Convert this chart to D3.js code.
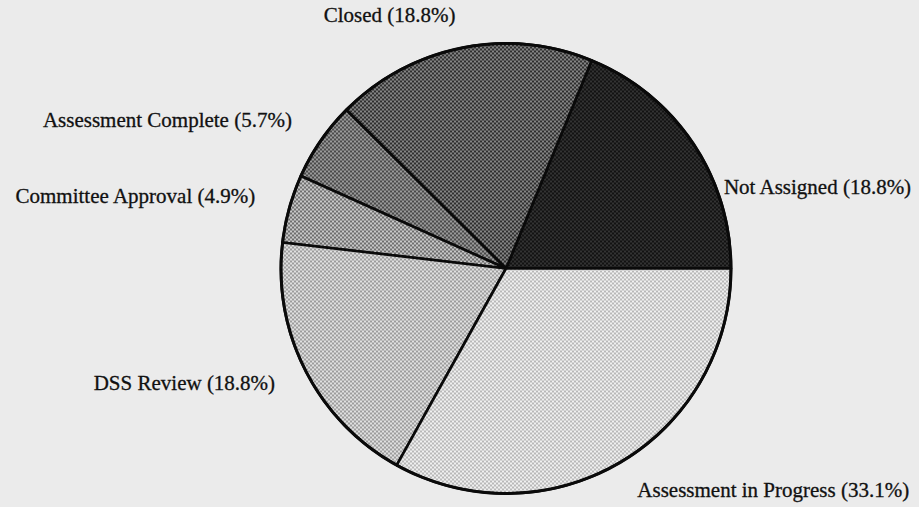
<!DOCTYPE html>
<html lang="en">
<head>
<meta charset="utf-8">
<title>Status pie</title>
<script src="https://cdn.jsdelivr.net/npm/d3@7"></script>
<style>
  body { margin: 0; background: #ebebeb; }
  text { font-family: "Liberation Serif", "Times New Roman", serif; font-size: 21px; fill: #111; stroke: #111; stroke-width: 0.3px; }
</style>
</head>
<body>
<script>
// data (counter-clockwise from 3 o'clock)
var categories = ["Not Assigned", "Closed", "Assessment Complete", "Committee Approval", "DSS Review", "Assessment in Progress"];
var percents = [18.8, 18.8, 5.7, 4.9, 18.8, 33.1];

// halftone look: base colour + dot colour per slice
var baseColors = ["#121212", "#2e2e2e", "#4a4a4a", "#c8c8c8", "#e0e0e0", "#f0f0f0"];
var dotColors  = ["#333333", "#858585", "#9a9a9a", "#6e6e6e", "#9c9c9c", "#b8b8b8"];
// label nudges [dx, dy]; Not Assigned label sits lower than its slice
var labelNudge = [[6, 62], [0, -2], [-4, -2], [-5, -3], [-4, 0], [2, 4]];

var w = 919, h = 507;
var cx = 506, cy = 268.5, r = 225;

var svg = d3.select("body").append("svg")
    .attr("width", w)
    .attr("height", h);

var defs = svg.append("defs");
categories.forEach(function(c, i) {
  var p = defs.append("pattern")
      .attr("id", "pat" + i)
      .attr("patternUnits", "userSpaceOnUse")
      .attr("width", 4).attr("height", 4);
  p.append("rect").attr("width", 4).attr("height", 4).attr("fill", baseColors[i]);
  p.append("rect").attr("x", 0).attr("y", 0).attr("width", 2).attr("height", 2).attr("fill", dotColors[i]);
  p.append("rect").attr("x", 2).attr("y", 2).attr("width", 2).attr("height", 2).attr("fill", dotColors[i]);
});

var pie = d3.pie()
    .sort(null)
    .value(function(d) { return d; })
    .startAngle(Math.PI / 2)
    .endAngle(Math.PI / 2 - 2 * Math.PI);

var arcs = pie(percents);

var arc = d3.arc().innerRadius(0).outerRadius(r);
var labelArc = d3.arc().innerRadius(255).outerRadius(255);

var g = svg.append("g").attr("transform", "translate(" + cx + "," + cy + ")");

g.selectAll("path.slice")
  .data(arcs)
  .enter()
  .append("path")
  .attr("class", "slice")
  .attr("d", arc)
  .attr("fill", function(d, i) { return "url(#pat" + i + ")"; })
  .attr("stroke", "#0a0a0a")
  .attr("stroke-width", 2.6)
  .attr("stroke-linejoin", "round");

g.append("circle")
  .attr("r", r)
  .attr("fill", "none")
  .attr("stroke", "#0a0a0a")
  .attr("stroke-width", 3);

g.selectAll("text")
  .data(arcs)
  .enter()
  .append("text")
  .attr("x", function(d, i) { return labelArc.centroid(d)[0] + labelNudge[i][0]; })
  .attr("y", function(d, i) { return labelArc.centroid(d)[1] + 5 + labelNudge[i][1]; })
  .attr("text-anchor", function(d) {
    var mid = (d.startAngle + d.endAngle) / 2;
    return Math.sin(mid) >= 0 ? "start" : "end";
  })
  .text(function(d, i) { return categories[i] + " (" + percents[i].toFixed(1) + "%)"; });
</script>
</body>
</html>
